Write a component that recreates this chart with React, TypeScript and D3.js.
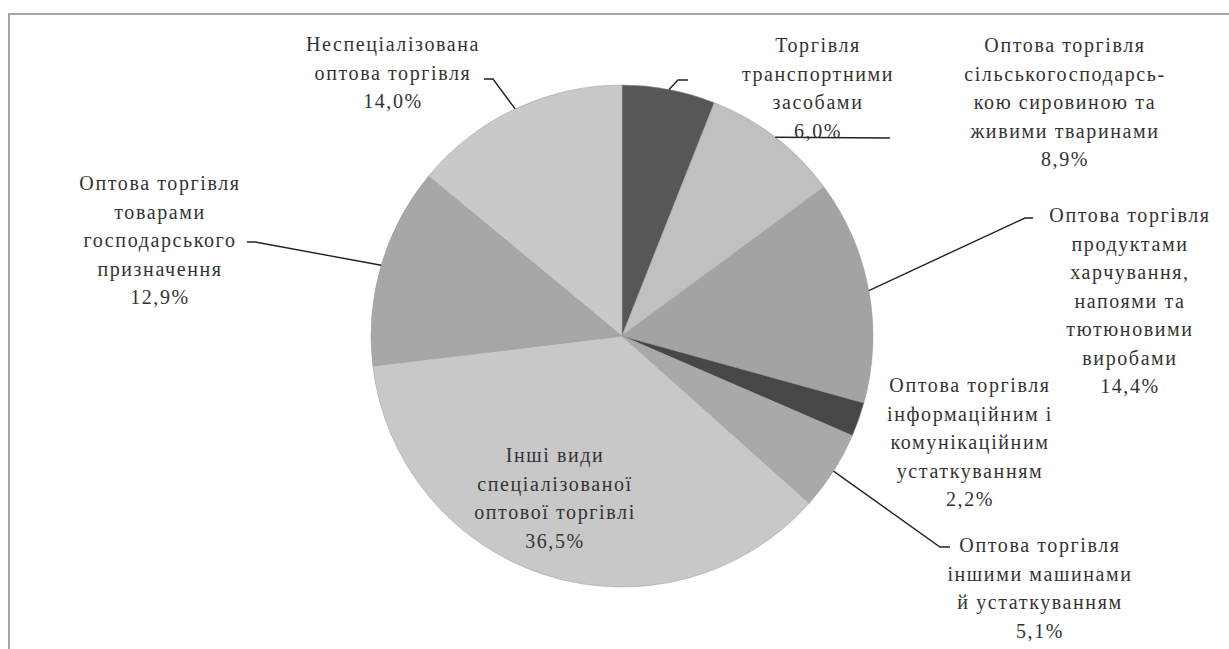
import React from "react";
import * as d3 from "d3";

// shares of wholesale trade turnover, clockwise from 12 o'clock
const categories = [
  "Торгівля транспортними засобами",
  "Оптова торгівля сільськогосподарською сировиною та живими тваринами",
  "Оптова торгівля продуктами харчування, напоями та тютюновими виробами",
  "Оптова торгівля інформаційним і комунікаційним устаткуванням",
  "Оптова торгівля іншими машинами й устаткуванням",
  "Інші види спеціалізованої оптової торгівлі",
  "Оптова торгівля товарами господарського призначення",
  "Неспеціалізована оптова торгівля",
];
const shares = [6.0, 8.9, 14.4, 2.2, 5.1, 36.5, 12.9, 14.0];
const labelLines = [
  ["Торгівля", "транспортними", "засобами"],
  ["Оптова торгівля", "сільськогосподарсь-", "кою сировиною та", "живими тваринами"],
  ["Оптова торгівля", "продуктами", "харчування,", "напоями та", "тютюновими", "виробами"],
  ["Оптова торгівля", "інформаційним і", "комунікаційним", "устаткуванням"],
  ["Оптова торгівля", "іншими машинами", "й устаткуванням"],
  ["Інші види", "спеціалізованої", "оптової торгівлі"],
  ["Оптова торгівля", "товарами", "господарського", "призначення"],
  ["Неспеціалізована", "оптова торгівля"],
];
const fills = ["#575757", "#c0c0c0", "#a3a3a3", "#474747", "#a9a9a9", "#c8c8c8", "#a7a7a7", "#c9c9c9"];

// label placement (page layout, not data)
const labelPos = [
  { x: 818, y: 45, leader: [[678, 80], [688, 80]] },
  { x: 1065, y: 45, leader: [[890, 138]] },
  { x: 1130, y: 215, leader: [[1025, 218], [1033, 218]] },
  { x: 970, y: 385, leader: null },
  { x: 1040, y: 545, leader: [[940, 547], [950, 547]] },
  { x: 555, y: 455, leader: null },
  { x: 160, y: 183, leader: [[255, 242], [247, 242]] },
  { x: 393, y: 44, leader: [[493, 79], [484, 79]] },
];

const W = 1229;
const H = 649;
const cx = 622;
const cy = 336;
const R = 251;
const lineH = 28.5;

export default function App() {
  const pie = d3.pie<number>().sort(null).value((d) => d);
  const arcs = pie(shares);
  const arc = d3.arc<d3.PieArcDatum<number>>().innerRadius(0).outerRadius(R);
  const fmt = (v: number) => v.toFixed(1).replace(".", ",") + "%";
  const line = d3.line();

  return (
    <svg width={W} height={H} style={{ position: "absolute", left: 0, top: 0, background: "#fff" }}>
      <rect x={9} y={14} width={1260} height={700} fill="none" stroke="#8a8a8a" strokeWidth={1.5} />
      <g transform={`translate(${cx},${cy})`}>
        {arcs.map((a, i) => (
          <path key={categories[i]} d={arc(a) || ""} fill={fills[i]} stroke="#999" strokeWidth={0.5} />
        ))}
      </g>
      {arcs.map((a, i) => {
        const p = labelPos[i];
        if (!p.leader) return null;
        const mid = (a.startAngle + a.endAngle) / 2;
        const start: [number, number] = [cx + R * Math.sin(mid), cy - R * Math.cos(mid)];
        const pts = [start, ...(p.leader as [number, number][])];
        return <path key={"l" + i} d={line(pts) || ""} fill="none" stroke="#222" strokeWidth={1.4} />;
      })}
      {labelLines.map((lines, i) => {
        const p = labelPos[i];
        const all = [...lines, fmt(shares[i])];
        return (
          <text
            key={"t" + i}
            textAnchor="middle"
            style={{ fontFamily: "Liberation Serif, Times New Roman, serif" }}
            fontSize={20}
            letterSpacing={1.6}
            fill="#333"
          >
            {all.map((s, j) => (
              <tspan key={j} x={p.x} y={p.y + 7 + j * lineH}>
                {s}
              </tspan>
            ))}
          </text>
        );
      })}
    </svg>
  );
}
